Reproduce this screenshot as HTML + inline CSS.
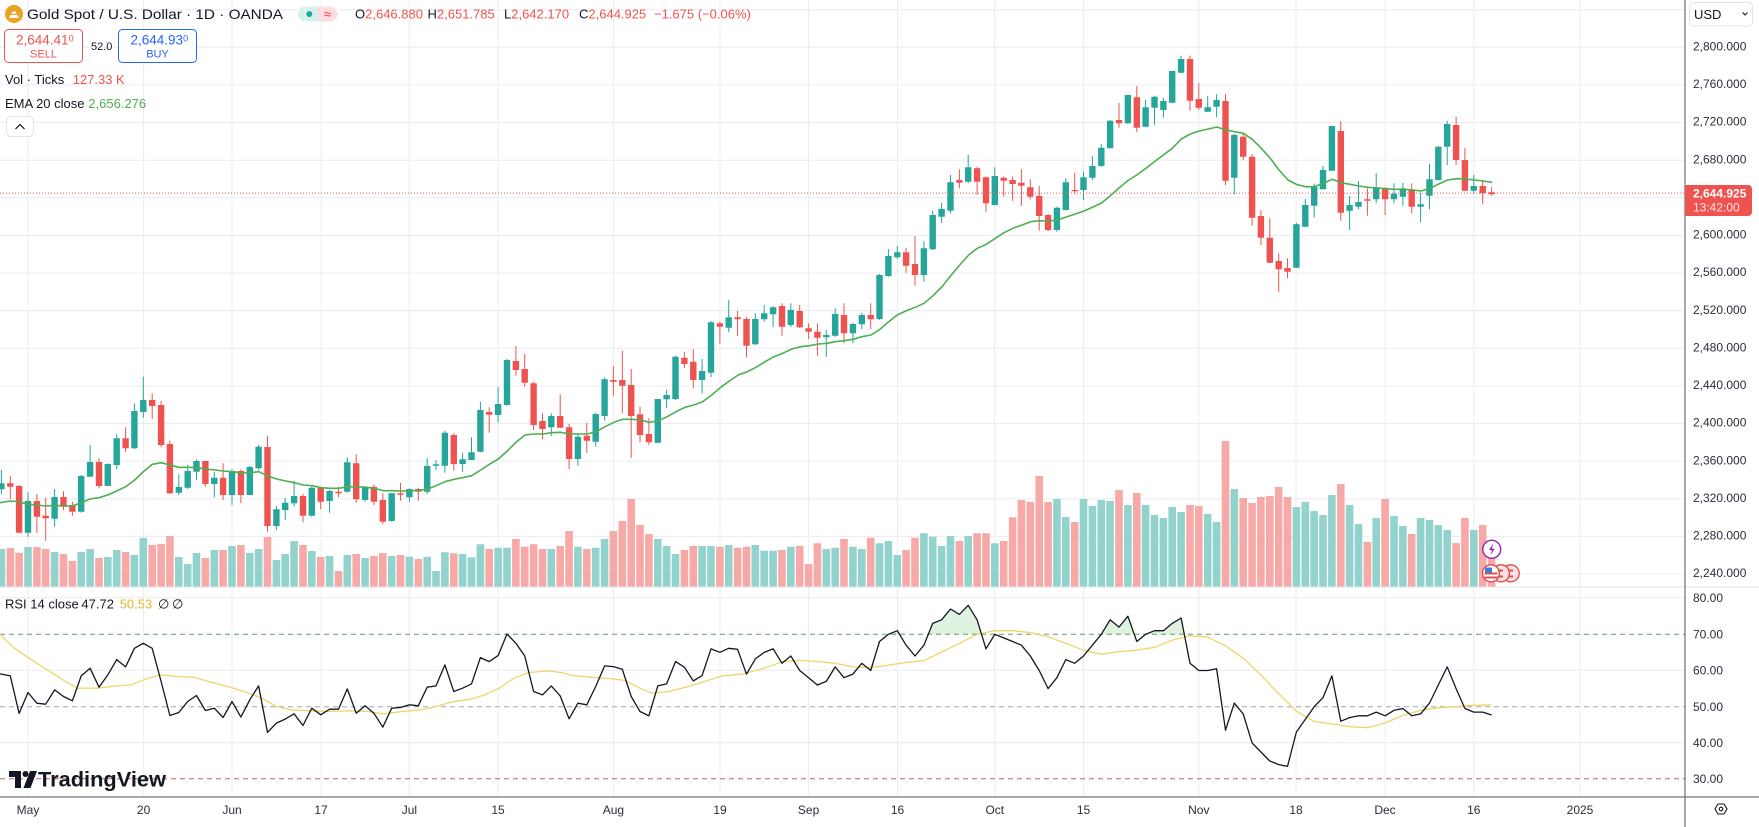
<!DOCTYPE html>
<html><head><meta charset="utf-8"><style>
html,body{margin:0;padding:0;background:#fff;}
svg{display:block;font-family:"Liberation Sans",sans-serif;}
</style></head><body>
<svg width="1759" height="827" viewBox="0 0 1759 827" xmlns="http://www.w3.org/2000/svg">
<rect width="1759" height="827" fill="#fff"/>
<!-- grid -->
<g stroke="#e9ecf1" stroke-width="1" fill="none">
<path d="M0 9.7H1685M0 47.3H1685M0 84.9H1685M0 122.5H1685M0 160.2H1685M0 197.8H1685M0 235.4H1685M0 273H1685M0 310.6H1685M0 348.3H1685M0 385.9H1685M0 423.5H1685M0 461.1H1685M0 498.7H1685M0 536.4H1685M0 574H1685M0 597.7H1685M0 670.3H1685M0 742.7H1685"/>
<path d="M28 0V797M143.6 0V797M232 0V797M321 0V797M409.4 0V797M498 0V797M613.4 0V797M720 0V797M808.6 0V797M897.5 0V797M994.8 0V797M1083.5 0V797M1198.8 0V797M1296 0V797M1385 0V797M1473.8 0V797M1580 0V797"/>
</g>
<!-- volume -->
<path fill="#93d3cd" d="M-2.4 549h7.6V587h-7.6zM24.2 547h7.6V587h-7.6zM50.8 552h7.6V587h-7.6zM77.4 552h7.6V587h-7.6zM86.3 549h7.6V587h-7.6zM104 557h7.6V587h-7.6zM112.9 550h7.6V587h-7.6zM130.6 555h7.6V587h-7.6zM139.5 538h7.6V587h-7.6zM175 557h7.6V587h-7.6zM183.9 564h7.6V587h-7.6zM192.7 553h7.6V587h-7.6zM210.5 550h7.6V587h-7.6zM228.2 546h7.6V587h-7.6zM246 553h7.6V587h-7.6zM254.8 549h7.6V587h-7.6zM272.6 560h7.6V587h-7.6zM281.4 554h7.6V587h-7.6zM290.3 541h7.6V587h-7.6zM308 551h7.6V587h-7.6zM325.8 556h7.6V587h-7.6zM343.5 555h7.6V587h-7.6zM361.3 558h7.6V587h-7.6zM387.9 556h7.6V587h-7.6zM405.6 556.7h7.6V587h-7.6zM423.4 556.7h7.6V587h-7.6zM432.2 571h7.6V587h-7.6zM441.1 552.3h7.6V587h-7.6zM458.8 554h7.6V587h-7.6zM467.7 557.3h7.6V587h-7.6zM476.6 544.3h7.6V587h-7.6zM494.3 547.7h7.6V587h-7.6zM503.2 547.7h7.6V587h-7.6zM547.5 549h7.6V587h-7.6zM574.1 546.7h7.6V587h-7.6zM591.9 547.7h7.6V587h-7.6zM600.8 539h7.6V587h-7.6zM654 539h7.6V587h-7.6zM662.8 546h7.6V587h-7.6zM671.7 554h7.6V587h-7.6zM698.3 546h7.6V587h-7.6zM707.2 546h7.6V587h-7.6zM724.9 545h7.6V587h-7.6zM751.5 545h7.6V587h-7.6zM760.4 550.7h7.6V587h-7.6zM769.3 550.7h7.6V587h-7.6zM787 546.7h7.6V587h-7.6zM822.5 549h7.6V587h-7.6zM831.4 547.7h7.6V587h-7.6zM849.1 546.7h7.6V587h-7.6zM858 549h7.6V587h-7.6zM875.7 543.3h7.6V587h-7.6zM884.6 541h7.6V587h-7.6zM893.5 555h7.6V587h-7.6zM920.1 533.3h7.6V587h-7.6zM928.9 536.7h7.6V587h-7.6zM937.8 546h7.6V587h-7.6zM946.7 536h7.6V587h-7.6zM964.4 536h7.6V587h-7.6zM991 543.3h7.6V587h-7.6zM1053.1 499h7.6V587h-7.6zM1062 517h7.6V587h-7.6zM1079.7 499h7.6V587h-7.6zM1088.6 506h7.6V587h-7.6zM1097.5 500h7.6V587h-7.6zM1106.3 501h7.6V587h-7.6zM1124.1 505h7.6V587h-7.6zM1141.8 505h7.6V587h-7.6zM1150.7 515h7.6V587h-7.6zM1159.6 518h7.6V587h-7.6zM1168.4 507h7.6V587h-7.6zM1177.3 512h7.6V587h-7.6zM1203.9 514h7.6V587h-7.6zM1212.8 522h7.6V587h-7.6zM1230.5 489h7.6V587h-7.6zM1292.6 507h7.6V587h-7.6zM1301.5 502h7.6V587h-7.6zM1310.4 511h7.6V587h-7.6zM1319.2 515h7.6V587h-7.6zM1328.1 495h7.6V587h-7.6zM1345.8 505h7.6V587h-7.6zM1354.7 524h7.6V587h-7.6zM1372.4 518h7.6V587h-7.6zM1390.2 516h7.6V587h-7.6zM1399.1 526h7.6V587h-7.6zM1416.8 518h7.6V587h-7.6zM1425.7 520h7.6V587h-7.6zM1434.5 525h7.6V587h-7.6zM1443.4 530h7.6V587h-7.6zM1470 530h7.6V587h-7.6z"/>
<path fill="#f7a9a8" d="M6.5 548h7.6V587h-7.6zM15.3 552.7h7.6V587h-7.6zM33.1 547h7.6V587h-7.6zM41.9 549h7.6V587h-7.6zM59.7 554h7.6V587h-7.6zM68.6 561h7.6V587h-7.6zM95.2 558h7.6V587h-7.6zM121.8 552h7.6V587h-7.6zM148.4 545h7.6V587h-7.6zM157.3 544h7.6V587h-7.6zM166.1 536h7.6V587h-7.6zM201.6 558h7.6V587h-7.6zM219.3 550h7.6V587h-7.6zM237.1 545h7.6V587h-7.6zM263.7 537h7.6V587h-7.6zM299.2 545h7.6V587h-7.6zM316.9 557h7.6V587h-7.6zM334.7 571h7.6V587h-7.6zM352.4 554h7.6V587h-7.6zM370.1 556h7.6V587h-7.6zM379 553h7.6V587h-7.6zM396.7 555h7.6V587h-7.6zM414.5 559h7.6V587h-7.6zM450 553.3h7.6V587h-7.6zM485.4 549h7.6V587h-7.6zM512.1 539h7.6V587h-7.6zM520.9 546.7h7.6V587h-7.6zM529.8 544.3h7.6V587h-7.6zM538.7 549h7.6V587h-7.6zM556.4 546h7.6V587h-7.6zM565.3 531h7.6V587h-7.6zM583 549h7.6V587h-7.6zM609.6 531h7.6V587h-7.6zM618.5 521h7.6V587h-7.6zM627.4 499h7.6V587h-7.6zM636.2 525h7.6V587h-7.6zM645.1 534h7.6V587h-7.6zM680.6 550h7.6V587h-7.6zM689.5 546h7.6V587h-7.6zM716.1 546.7h7.6V587h-7.6zM733.8 547.7h7.6V587h-7.6zM742.7 546.7h7.6V587h-7.6zM778.2 550h7.6V587h-7.6zM795.9 546h7.6V587h-7.6zM804.8 564h7.6V587h-7.6zM813.6 543.3h7.6V587h-7.6zM840.2 539h7.6V587h-7.6zM866.9 537.7h7.6V587h-7.6zM902.3 550h7.6V587h-7.6zM911.2 537.7h7.6V587h-7.6zM955.6 541h7.6V587h-7.6zM973.3 533.3h7.6V587h-7.6zM982.2 533.3h7.6V587h-7.6zM999.9 541h7.6V587h-7.6zM1008.8 517.3h7.6V587h-7.6zM1017.6 500h7.6V587h-7.6zM1026.5 501.7h7.6V587h-7.6zM1035.4 476h7.6V587h-7.6zM1044.3 502h7.6V587h-7.6zM1070.9 522h7.6V587h-7.6zM1115.2 490h7.6V587h-7.6zM1133 493h7.6V587h-7.6zM1186.2 505h7.6V587h-7.6zM1195 506h7.6V587h-7.6zM1221.7 441h7.6V587h-7.6zM1239.4 498h7.6V587h-7.6zM1248.3 503h7.6V587h-7.6zM1257.1 497h7.6V587h-7.6zM1266 496h7.6V587h-7.6zM1274.9 487h7.6V587h-7.6zM1283.7 497h7.6V587h-7.6zM1337 484h7.6V587h-7.6zM1363.6 542h7.6V587h-7.6zM1381.3 499h7.6V587h-7.6zM1407.9 534h7.6V587h-7.6zM1452.3 543h7.6V587h-7.6zM1461.1 518h7.6V587h-7.6zM1478.9 525h7.6V587h-7.6zM1487.8 555h7.6V587h-7.6z"/>
<!-- wicks -->
<path stroke="#26a69a" stroke-width="1" fill="none" d="M1.4 470V494M28 492.3V536.7M54.6 489V526.7M81.2 475V512.7M90.1 445V476.7M107.8 463.3V486M116.7 434.3V469.3M134.4 403.3V449M143.3 376.7V417.7M178.8 474.3V495M187.7 465V489M196.5 459.3V480M214.3 471.7V497.3M232 469.3V505M249.8 466V495M258.6 445V470M276.4 506V530M285.2 497.7V520M294.1 481V506.7M311.8 486.7V516.7M329.6 490V512.7M347.3 457.3V492.7M365.1 486V501.7M391.7 492.7V521.7M409.4 488.3V501.7M427.2 458.3V494M436 460V470M444.9 430.7V472.7M462.6 452.7V471.7M471.5 437.3V460M480.4 401.7V452.3M498.1 386.7V422.7M507 359V405.7M551.3 413.3V436M577.9 433.3V465.7M595.7 412.7V446.7M604.6 377.3V420.7M657.8 399V442.7M666.6 390V408.3M675.5 356V400M702.1 359V393.3M711 321V377.3M728.7 300V332.3M755.3 313.3V345M764.2 305V321.7M773.1 306V326.7M790.8 303.3V326.7M826.3 330V356.7M835.2 308.3V336.7M852.9 322.7V343.3M861.8 312.7V329.3M879.5 274V320M888.4 249V276.7M897.3 246V259M923.9 241V281.7M932.7 210.7V250M941.6 202.7V222.7M950.5 175V213.3M968.2 155V183.3M994.8 167.3V205.5M1056.9 206.7V231.7M1065.8 178.3V210.5M1083.5 171.7V200M1092.4 156V180M1101.3 144V166.7M1110.1 120V148.5M1127.9 95V124M1145.6 100V127.3M1154.5 95.7V124.7M1163.4 97.7V117.7M1172.2 71V103.3M1181.1 55.7V73.3M1207.7 96V112M1216.6 94.3V117.3M1234.3 134V194.3M1296.4 222.7V268M1305.3 199V227M1314.2 183.5V217.5M1323 166V189.5M1331.9 126V171M1349.6 196V230M1358.5 181V209.3M1376.2 173.3V203.3M1394 183.3V203.3M1402.9 182.7V205.7M1420.6 192.7V222.3M1429.5 164V209.3M1438.3 146V180.5M1447.2 120.7V165M1473.8 175V194"/>
<path stroke="#ef5350" stroke-width="1" fill="none" d="M10.3 476V499.3M19.1 485V533.3M36.9 494V532.7M45.7 497.7V540.7M63.5 491.3V510M72.4 501.7V515.7M99 458.3V488.3M125.6 427.3V451.7M152.2 393.3V419M161.1 400.7V447.3M169.9 440.7V494M205.4 461V486.7M223.1 463.3V500M240.9 469.3V503.3M267.5 436V531.7M303 494V522.3M320.7 486.7V509.3M338.5 486.7V497.3M356.2 454.3V502.7M373.9 484.3V505M382.8 493.3V524.3M400.5 482.7V500.7M418.3 488V500.7M453.8 433.3V470.7M489.2 407.3V432.7M515.9 346V375.7M524.7 354V386.7M533.6 381.7V430M542.5 413.3V439.3M560.2 394.3V427.7M569.1 424V469M586.8 422.7V452.7M613.4 366V395.7M622.3 350.7V413.3M631.2 369V457.7M640 406.7V442.3M648.9 418.3V445M684.4 351.7V368.3M693.3 349V388.3M719.9 321.7V344M737.6 311V336M746.5 316.7V357.3M782 303.3V335.7M799.7 305V328M808.6 323.3V339.3M817.4 323.3V355.7M844 303.3V343.3M870.7 303.3V329M906.1 247.7V272.7M915 236V285.7M959.4 169.3V188.3M977.1 166.7V195M986 176.7V211.7M1003.7 176.7V196.7M1012.6 176.7V200.7M1021.4 169.3V206M1030.3 179.3V199.3M1039.2 186V230.7M1048.1 214V231M1074.7 172.7V194.3M1119 102.7V127.7M1136.8 86V132.3M1190 55.7V110.7M1198.8 83.3V110M1225.5 94V185M1243.2 133.3V160M1252.1 154V225.7M1260.9 210V245M1269.8 218.3V263M1278.7 253.3V292M1287.5 258.3V278.3M1340.8 121V220.7M1367.4 188.3V215.7M1385.1 187.3V215M1411.7 183.3V213.3M1456.1 116.7V165M1464.9 148.3V191M1482.7 180V204.3M1491.6 187.3V195.7"/>
<!-- bodies -->
<path fill="#26a69a" d="M-1.8 483.3h6.4V489.3h-6.4zM24.8 501h6.4V532.7h-6.4zM51.4 497h6.4V518.7h-6.4zM78 476h6.4V511.7h-6.4zM86.9 462h6.4V476.7h-6.4zM104.6 464h6.4V486h-6.4zM113.5 438.3h6.4V465h-6.4zM131.2 411h6.4V448.3h-6.4zM140.1 400h6.4V412h-6.4zM175.6 487h6.4V492.7h-6.4zM184.5 471h6.4V487.7h-6.4zM193.3 461h6.4V471.7h-6.4zM211.1 477.7h6.4V484h-6.4zM228.8 471h6.4V495h-6.4zM246.6 467h6.4V495h-6.4zM255.4 446.7h6.4V468.3h-6.4zM273.2 509.3h6.4V526h-6.4zM282 502.7h6.4V510h-6.4zM290.9 496h6.4V503.3h-6.4zM308.6 487.7h6.4V515.7h-6.4zM326.4 491h6.4V501h-6.4zM344.1 462.3h6.4V491.7h-6.4zM361.9 486.7h6.4V500h-6.4zM388.5 493.3h6.4V521h-6.4zM406.2 489h6.4V497.3h-6.4zM424 466h6.4V491.7h-6.4zM432.8 464.3h6.4V465.7h-6.4zM441.7 432.7h6.4V465.7h-6.4zM459.4 459.3h6.4V464h-6.4zM468.3 452.3h6.4V460h-6.4zM477.2 410h6.4V451.7h-6.4zM494.9 404h6.4V415h-6.4zM503.8 360h6.4V405h-6.4zM548.1 416h6.4V427.3h-6.4zM574.7 436.7h6.4V459h-6.4zM592.5 414h6.4V441.7h-6.4zM601.4 379.3h6.4V416h-6.4zM654.6 399h6.4V442.7h-6.4zM663.4 395h6.4V399.3h-6.4zM672.3 356.7h6.4V399h-6.4zM698.9 371h6.4V380h-6.4zM707.8 322.3h6.4V372.7h-6.4zM725.5 317.3h6.4V327.7h-6.4zM752.1 319h6.4V344.3h-6.4zM761 313.3h6.4V319.3h-6.4zM769.9 307.3h6.4V314.3h-6.4zM787.6 310h6.4V325h-6.4zM823.1 335h6.4V337.3h-6.4zM832 314h6.4V335.7h-6.4zM849.7 324h6.4V333.3h-6.4zM858.6 315h6.4V324.3h-6.4zM876.3 275h6.4V319h-6.4zM885.2 256h6.4V276h-6.4zM894.1 252.3h6.4V257.3h-6.4zM920.7 248.3h6.4V275h-6.4zM929.5 215h6.4V249.3h-6.4zM938.4 209h6.4V216.7h-6.4zM947.3 182.3h6.4V210.7h-6.4zM965 167.3h6.4V181.7h-6.4zM991.6 176h6.4V205h-6.4zM1053.7 207.7h6.4V230h-6.4zM1062.6 182.3h6.4V210h-6.4zM1080.3 177.3h6.4V190h-6.4zM1089.2 166h6.4V177.7h-6.4zM1098.1 147.7h6.4V166h-6.4zM1106.9 120.7h6.4V148.3h-6.4zM1124.7 95h6.4V123.3h-6.4zM1142.4 107.3h6.4V126.7h-6.4zM1151.3 96.7h6.4V107.7h-6.4zM1160.2 101h6.4V110h-6.4zM1169 71h6.4V102.7h-6.4zM1177.9 59h6.4V72.7h-6.4zM1204.5 107.3h6.4V111.7h-6.4zM1213.4 100h6.4V106.7h-6.4zM1231.1 135h6.4V177.7h-6.4zM1293.2 224.3h6.4V267.7h-6.4zM1302.1 205h6.4V226.7h-6.4zM1311 187h6.4V205.7h-6.4zM1319.8 170h6.4V189.3h-6.4zM1328.7 126h6.4V170.7h-6.4zM1346.4 205h6.4V210.7h-6.4zM1355.3 202h6.4V206.7h-6.4zM1373 187.3h6.4V199.3h-6.4zM1390.8 193.7h6.4V199.3h-6.4zM1399.7 188.3h6.4V196.7h-6.4zM1417.4 204.3h6.4V206.7h-6.4zM1426.3 179.3h6.4V195.7h-6.4zM1435.1 146.7h6.4V180h-6.4zM1444 124h6.4V146.7h-6.4zM1470.6 186h6.4V190.7h-6.4z"/>
<path fill="#ef5350" d="M7.1 483.3h6.4V486.7h-6.4zM15.9 486h6.4V532.7h-6.4zM33.7 501h6.4V516.7h-6.4zM42.5 515.7h6.4V518.3h-6.4zM60.3 497h6.4V506.7h-6.4zM69.2 505h6.4V511.7h-6.4zM95.8 462h6.4V486h-6.4zM122.4 438.3h6.4V448.3h-6.4zM149 400h6.4V406h-6.4zM157.9 405h6.4V445h-6.4zM166.7 444h6.4V493.3h-6.4zM202.2 461h6.4V484h-6.4zM219.9 477.7h6.4V495h-6.4zM237.7 471h6.4V495h-6.4zM264.3 447h6.4V526h-6.4zM299.8 496h6.4V515.7h-6.4zM317.5 487.7h6.4V501.7h-6.4zM335.3 491.7h6.4V493.3h-6.4zM353 463.3h6.4V499.3h-6.4zM370.7 486.7h6.4V501.7h-6.4zM379.6 500h6.4V521.7h-6.4zM397.3 493.3h6.4V494.7h-6.4zM415.1 489h6.4V491.7h-6.4zM450.6 435h6.4V464h-6.4zM486 412h6.4V414.7h-6.4zM512.7 361h6.4V370h-6.4zM521.5 369h6.4V382.7h-6.4zM530.4 383.3h6.4V425h-6.4zM539.3 421h6.4V429h-6.4zM557 416h6.4V427.7h-6.4zM565.9 427.3h6.4V459h-6.4zM583.6 435.7h6.4V440.7h-6.4zM610.2 380h6.4V381.7h-6.4zM619.1 380h6.4V385.7h-6.4zM628 385h6.4V416h-6.4zM636.8 414.3h6.4V435h-6.4zM645.7 434h6.4V442.3h-6.4zM681.2 357.7h6.4V364h-6.4zM690.1 361.7h6.4V380h-6.4zM716.7 323.3h6.4V326.7h-6.4zM734.4 317.3h6.4V319.3h-6.4zM743.3 319h6.4V345.7h-6.4zM778.8 306h6.4V326.7h-6.4zM796.5 311h6.4V327.3h-6.4zM805.4 328.3h6.4V331.7h-6.4zM814.2 331.7h6.4V337.7h-6.4zM840.8 315h6.4V333.3h-6.4zM867.5 315h6.4V319.3h-6.4zM902.9 252.3h6.4V265.7h-6.4zM911.8 264h6.4V275h-6.4zM956.2 180h6.4V182.7h-6.4zM973.9 168.3h6.4V181.7h-6.4zM982.8 177.3h6.4V203.3h-6.4zM1000.5 177.7h6.4V180.7h-6.4zM1009.4 180h6.4V184h-6.4zM1018.2 182.7h6.4V185.7h-6.4zM1027.1 187.3h6.4V196.7h-6.4zM1036 196h6.4V216h-6.4zM1044.9 215h6.4V230h-6.4zM1071.5 190h6.4V191.3h-6.4zM1115.8 120h6.4V123.3h-6.4zM1133.6 97.3h6.4V127.7h-6.4zM1186.8 59h6.4V100.7h-6.4zM1195.6 99h6.4V107.7h-6.4zM1222.3 101h6.4V180.7h-6.4zM1240 136.7h6.4V156.7h-6.4zM1248.9 156.7h6.4V217.7h-6.4zM1257.7 216h6.4V237.7h-6.4zM1266.6 237.7h6.4V262.7h-6.4zM1275.5 261h6.4V269.3h-6.4zM1284.3 268h6.4V271.7h-6.4zM1337.6 131h6.4V212.7h-6.4zM1364.2 199.3h6.4V200.7h-6.4zM1381.9 188.3h6.4V199.3h-6.4zM1408.5 189.3h6.4V206.7h-6.4zM1452.9 125h6.4V160h-6.4zM1461.7 160h6.4V190.7h-6.4zM1479.5 186h6.4V193.3h-6.4zM1488.4 192.3h6.4V194.3h-6.4z"/>
<!-- EMA -->
<polyline fill="none" stroke="#4caf50" stroke-width="1.6" stroke-linejoin="round" points="0,502.7 10,501 19,501.7 28,504.3 36.7,505 45.7,506 54.7,505.3 63.3,506 72.3,506 81,502.7 90,499 99,497.7 107.7,495 116.7,491 125.7,486.7 134.7,480 143.3,471.7 152.3,464.3 161.3,462.7 170,465 179,467.3 188,467.3 196.7,467.7 205.7,469 214.7,470 223.3,471 232.3,471.7 241,472.7 250,472.7 259,471.7 267.7,476 276.7,479 285.7,481 294.3,482.7 303.3,485 312.3,485.7 321,487.7 330,488.3 339,488.3 347.7,486.7 356.7,486.7 365.7,487.3 374.3,488.3 383.3,490.7 392.3,490.7 401,491 410,491 418.7,490.5 427.3,489.2 436,485.7 445,481.7 454,479.3 462.7,477.7 471.7,475.7 480.7,470 489.3,464.3 498.3,459 507.3,451 516,442.3 525,435 534,434 543,434 551.7,432.7 560.7,432.3 569.3,434 578.3,434 587.3,434 596.3,431.7 605,426.7 614,422.3 622.7,419.3 631.7,419.3 640.7,420 649.3,422.3 658.3,420.7 667.3,416.7 676,411.7 685,407.3 693.7,405 702.7,401.7 711.7,395 720.3,387.7 729.3,381 738.3,375 747.3,371.7 756,367.3 765,361.7 774,356.7 782.7,353.3 791.7,349 800.7,346.7 809.3,345.7 818.3,344 827,343.3 835.3,341.7 844,340.7 853,339.3 862,336.7 871,335 880,329.3 888.7,321.7 897.3,315 906.3,310.7 915.3,307.3 924,303.3 933,295.7 942,286.7 950.7,275.7 959.7,265 968.7,255 977.3,248.3 986.3,244.3 995.3,238.3 1004,232.7 1013,228.3 1022,225 1030.7,221.7 1039.7,220.7 1048.7,221 1057.3,220 1066.3,217 1075.3,214 1084,211 1093,207 1101.5,203 1110,196 1119,188 1128,180.5 1136.7,175 1145.7,168.5 1154.7,161.5 1163.3,155 1172.3,148.3 1181.3,139 1190.3,134 1199.3,131 1208.3,129 1217,127 1225.7,130 1234.7,131.7 1243.3,133.3 1252.3,139.3 1261.3,148.3 1270.3,158.3 1279,170 1288,180 1296.7,184.5 1305.5,186.7 1314.3,186.7 1323.3,183.3 1332.3,179.3 1341.3,182.7 1350,184.3 1359,186 1367.7,187.3 1376.7,188 1385.3,188.7 1394.3,189.3 1403.3,189.3 1412.3,190 1421,191 1430,188.3 1438.7,184 1447.7,180 1456.7,178.7 1465.3,179 1474.3,180 1483,181 1492,182.3"/>
<!-- current price line -->
<line x1="0" y1="193.1" x2="1685" y2="193.1" stroke="#ef5350" stroke-width="1" stroke-dasharray="1 2"/>
<!-- event icons -->
<g stroke-width="1.3">
<circle cx="1510.7" cy="573.3" r="8.5" fill="#fbe3e3" stroke="#e04848"/>
<circle cx="1501" cy="573.3" r="8.5" fill="#fbe3e3" stroke="#e04848"/>
<circle cx="1491" cy="573.3" r="8.5" fill="#fff" stroke="#e04848"/>
</g>
<rect x="1484.5" y="572.5" width="13" height="2" fill="#e05050"/>
<rect x="1484.5" y="576.5" width="13" height="2" fill="#e05050"/>
<rect x="1485" y="567.5" width="7" height="5" fill="#3d7de0"/>
<path d="M1498 570.5h5M1498 576.5h5M1508 570.5h5M1508 576.5h5" stroke="#e05050" stroke-width="2"/>
<circle cx="1491.7" cy="549.3" r="9" fill="#fff" stroke="#8e24aa" stroke-width="1.4"/>
<path d="M1493.3 543.5l-4.3 6.5h3l-1.6 5.3 4.4-6.6h-3z" fill="#8e24aa"/>
<!-- pane separators & axes -->
<line x1="0" y1="587" x2="1759" y2="587" stroke="#e0e3eb" stroke-width="1"/>
<!-- RSI levels -->
<line x1="0" y1="634.3" x2="1685" y2="634.3" stroke="#5e9e63" stroke-width="1" stroke-dasharray="5 4"/>
<line x1="0" y1="706.7" x2="1685" y2="706.7" stroke="#a3a6af" stroke-width="1" stroke-dasharray="5 4"/>
<line x1="0" y1="778.7" x2="1685" y2="778.7" stroke="#bd6060" stroke-width="1" stroke-dasharray="5 4"/>
<!-- RSI overbought fill -->
<g fill="rgba(76,175,80,0.18)">
<polygon points="888.4,634.3 897.3,630.7 899.5,634.3"/>
<polygon points="928.3,634.3 932.7,623.4 941.6,619.8 950.5,609 959.4,614.4 968.2,605.3 977.1,619.8 981.5,634.3"/>
<polygon points="1101.3,634.3 1110.1,619.8 1119,627.1 1127.9,616.2 1134.1,634.3"/>
<polygon points="1145.6,634.3 1154.5,630.7 1163.4,630.7 1172.2,623.4 1181.1,618 1184.3,634.3"/>
</g>
<!-- RSI MA -->
<polyline fill="none" stroke="#f0d46a" stroke-width="1.3" stroke-linejoin="round" points="0,634.3 14.5,648.3 29.1,658.3 48.5,670.6 63,679.9 77.6,688.2 96.9,688.2 116.3,685.9 130.9,684.9 145.4,679.2 160,674.9 179.4,676.6 193.9,677.2 208.4,681.5 227.8,686.5 247.2,692.5 261.8,698.2 276.3,706.5 290.8,709.8 310.2,710.8 329.6,711.5 349,710.8 368.4,711.5 382.9,713.8 402.3,711.5 421.7,709.8 436.3,706.5 450.8,702.2 470.2,699.2 484.7,694.9 499.3,688.2 513.8,678.2 528.4,672.6 547.7,670.9 562.3,672.6 572,675.6 591.4,677.2 610.8,678.6 625.3,680.5 639.9,688.2 652,693.2 668.9,691.5 688.3,686.5 707.7,680.5 722.2,675.9 741.6,674.2 764.2,668.3 782,661.8 799.7,660.4 817.4,661.5 835.2,663.3 852.9,666.9 870.7,667.6 888.4,665.1 906.1,662.5 923.9,660.7 941.6,652 959.4,643.4 977.1,634.3 994.8,630.7 1012.6,630.7 1030.3,632.5 1048.1,636.8 1065.8,643.4 1083.5,650.2 1101.3,654.2 1119,651.7 1136.8,650.2 1154.5,647.3 1172.2,640.1 1190,635.7 1207.7,637.2 1225.5,645.9 1243.2,658.2 1260.9,675.2 1278.7,693.7 1296.4,711.2 1314.2,721.5 1331.9,723.9 1349.6,726.6 1367.4,727.7 1385.1,723 1402.9,715.4 1420.6,710.3 1438.3,707.8 1456.1,706.7 1473.8,705.3 1491.6,704.9"/>
<!-- RSI -->
<polyline fill="none" stroke="#131722" stroke-width="1.3" stroke-linejoin="round" points="0,673.9 10.3,675.9 19.1,713.5 28,692.5 36.9,703.2 45.7,704.2 54.6,689.9 63.5,696.5 72.4,700.8 81.2,675.9 90.1,668.2 99,687.2 107.8,674.9 116.7,659.6 125.6,666.9 134.4,648.3 143.3,643.3 152.2,648.3 161.1,681.5 169.9,715.5 178.8,712.5 187.7,701.5 196.5,695.5 205.4,710.5 214.3,708.2 223.1,717.5 232,701.5 240.9,717.1 249.8,699.8 258.6,685.9 267.5,732.4 276.4,723.1 285.2,719.1 294.1,713.8 303,725.5 311.8,708.2 320.7,714.8 329.6,709.2 338.5,709.2 347.3,688.9 356.2,713.2 365.1,705.8 373.9,713.2 382.8,727.1 391.7,708.2 400.5,707.5 409.4,704.8 418.3,705.8 427.2,687.2 436,685.9 444.9,664.9 453.8,691.5 462.6,688.2 471.5,683.9 480.4,657.6 489.2,661.6 498.1,655.6 507,634 515.9,643.3 524.7,655.9 533.6,691.5 542.5,694.9 551.3,685.9 560.2,695.9 569.1,718.8 577.9,703.2 586.8,704.8 595.7,686.5 604.6,665.9 613.4,666.6 622.3,669.2 631.2,696.5 640,711.5 648.9,715.8 657.8,685.9 666.6,683.9 675.5,661.6 684.4,667.2 693.3,680.9 702.1,675.6 711,648.9 719.9,652.3 728.7,648.3 737.6,649.3 746.5,674.2 755.3,658.9 764.2,652.4 773.1,648.8 782,663.3 790.8,656 799.7,670.5 808.6,677.7 817.4,685 826.3,681.4 835.2,666.9 844,677.7 852.9,674.1 861.8,663.3 870.7,670.5 879.5,641.5 888.4,634.3 897.3,630.7 906.1,645.2 915,656 923.9,645.2 932.7,623.4 941.6,619.8 950.5,609 959.4,614.4 968.2,605.3 977.1,619.8 986,648.8 994.8,634.3 1003.7,637.9 1012.6,641.5 1021.4,645.2 1030.3,656 1039.2,670.5 1048.1,688.6 1056.9,677.7 1065.8,659.6 1074.7,663.3 1083.5,656 1092.4,645.2 1101.3,634.3 1110.1,619.8 1119,627.1 1127.9,616.2 1136.8,641.5 1145.6,634.3 1154.5,630.7 1163.4,630.7 1172.2,623.4 1181.1,618 1190,663.3 1198.8,670.5 1207.7,670.5 1216.6,668.7 1225.5,730.2 1234.3,703.1 1243.2,713.9 1252.1,742.9 1260.9,752 1269.8,761 1278.7,764.6 1287.5,766.4 1296.4,732 1305.3,719.4 1314.2,706.7 1323,697.6 1331.9,675.9 1340.8,721.2 1349.6,717.6 1358.5,715.8 1367.4,715.8 1376.2,712.1 1385.1,715.8 1394,710.3 1402.9,708.5 1411.7,715.8 1420.6,713.9 1429.5,703.1 1438.3,685 1447.2,666.9 1456.1,688.6 1464.9,708.5 1473.8,712.1 1482.7,712.1 1491.6,715"/>
<!-- axes lines -->
<line x1="1685" y1="0" x2="1685" y2="827" stroke="#50535e" stroke-width="1"/>
<line x1="0" y1="797" x2="1759" y2="797" stroke="#50535e" stroke-width="1"/>
<!-- price axis labels -->
<g font-size="12" fill="#2a2e39">
<text x="1693" y="50.5">2,800.000</text>
<text x="1693" y="88.1">2,760.000</text>
<text x="1693" y="125.7">2,720.000</text>
<text x="1693" y="163.4">2,680.000</text>
<text x="1693" y="238.6">2,600.000</text>
<text x="1693" y="276.2">2,560.000</text>
<text x="1693" y="313.8">2,520.000</text>
<text x="1693" y="351.5">2,480.000</text>
<text x="1693" y="389.1">2,440.000</text>
<text x="1693" y="426.7">2,400.000</text>
<text x="1693" y="464.3">2,360.000</text>
<text x="1693" y="501.9">2,320.000</text>
<text x="1693" y="539.6">2,280.000</text>
<text x="1693" y="577.2">2,240.000</text>
<text x="1693" y="601.9">80.00</text>
<text x="1693" y="638.5">70.00</text>
<text x="1693" y="674.5">60.00</text>
<text x="1693" y="710.9">50.00</text>
<text x="1693" y="746.9">40.00</text>
<text x="1693" y="782.9">30.00</text>
</g>
<!-- price label -->
<path d="M1685 185h63a4 4 0 0 1 4 4v23a4 4 0 0 1 -4 4h-63z" fill="#ef5350"/>
<text x="1693" y="197.5" font-size="12" font-weight="bold" fill="#fff">2,644.925</text>
<text x="1693" y="211.5" font-size="12" fill="#fde6e6">13:42:00</text>
<!-- USD box -->
<rect x="1689.5" y="2.5" width="63" height="23.5" rx="4" fill="#fff" stroke="#e0e3eb"/>
<text x="1694" y="19" font-size="13" fill="#131722">USD</text>
<polyline points="1742.5,12.5 1745,15 1747.5,12.5" fill="none" stroke="#131722" stroke-width="1.1"/>
<!-- settings icon -->
<path d="M1715 809l3-5h6l3 5-3 5h-6z" fill="none" stroke="#131722" stroke-width="1.1"/>
<circle cx="1721" cy="809" r="1.8" fill="none" stroke="#131722" stroke-width="1.1"/>
<!-- time axis labels -->
<g font-size="12" fill="#2a2e39" text-anchor="middle">
<text x="28" y="814">May</text>
<text x="143.6" y="814">20</text>
<text x="232" y="814">Jun</text>
<text x="321" y="814">17</text>
<text x="409.4" y="814">Jul</text>
<text x="498" y="814">15</text>
<text x="613.4" y="814">Aug</text>
<text x="720" y="814">19</text>
<text x="808.6" y="814">Sep</text>
<text x="897.5" y="814">16</text>
<text x="994.8" y="814">Oct</text>
<text x="1083.5" y="814">15</text>
<text x="1198.8" y="814">Nov</text>
<text x="1296" y="814">18</text>
<text x="1385" y="814">Dec</text>
<text x="1473.8" y="814">16</text>
<text x="1580" y="814">2025</text>
</g>
<!-- header -->
<circle cx="14" cy="14" r="9" fill="#eaa322"/>
<path d="M9 18h10l-1.5-3h-7zM11.5 14h5l-1-2.5h-3z" fill="#fff"/>
<text x="27" y="19" font-size="14" fill="#131722" textLength="256" lengthAdjust="spacingAndGlyphs">Gold Spot / U.S. Dollar · 1D · OANDA</text>
<rect x="298" y="6.5" width="20" height="15" fill="#d6f0ec"/>
<rect x="318" y="6.5" width="20" height="15" fill="#fcdde2"/>
<path d="M305.5 6.5h12.5v15h-12.5a7.5 7.5 0 0 1 0-15z" fill="#d6f0ec"/>
<rect x="298" y="6.5" width="8" height="15" fill="#fff"/>
<path d="M305.5 6.5a7.5 7.5 0 0 0 0 15z" fill="#d6f0ec"/>
<rect x="330" y="6.5" width="8" height="15" fill="#fff"/>
<path d="M330 6.5a7.5 7.5 0 0 1 0 15z" fill="#fcdde2"/>
<circle cx="309.3" cy="14" r="3" fill="#26a69a"/>
<text x="327.5" y="18.5" font-size="13" fill="#f23645" text-anchor="middle">≈</text>
<g font-size="13">
<text x="355" y="18.5" fill="#131722">O<tspan fill="#ef5350">2,646.880</tspan></text>
<text x="427.5" y="18.5" fill="#131722">H<tspan fill="#ef5350">2,651.785</tspan></text>
<text x="504" y="18.5" fill="#131722">L<tspan fill="#ef5350">2,642.170</tspan></text>
<text x="579" y="18.5" fill="#131722">C<tspan fill="#ef5350">2,644.925</tspan></text>
<text x="654" y="18.5" fill="#ef5350">−1.675 (−0.06%)</text>
</g>
<rect x="4.5" y="29.5" width="78" height="33" rx="4" fill="#fff" stroke="#ef5350"/>
<rect x="118.5" y="29.5" width="78" height="33" rx="4" fill="#fff" stroke="#2962ff"/>
<text x="16" y="44.3" font-size="13.5" fill="#ef5350">2,644.41<tspan font-size="9" dy="-3">0</tspan></text>
<text x="43.5" y="57.3" font-size="11" fill="#ef5350" text-anchor="middle">SELL</text>
<text x="130.5" y="44.3" font-size="13.5" fill="#2962ff">2,644.93<tspan font-size="9" dy="-3">0</tspan></text>
<text x="157.5" y="57.3" font-size="11" fill="#2962ff" text-anchor="middle">BUY</text>
<text x="91" y="50" font-size="11" fill="#131722">52.0</text>
<text x="5" y="83.8" font-size="13" fill="#131722">Vol · Ticks</text>
<text x="72.7" y="83.8" font-size="13" fill="#ef5350">127.33 K</text>
<text x="5" y="107.8" font-size="13" fill="#131722">EMA 20 close</text>
<text x="88.3" y="107.8" font-size="13" fill="#4caf50">2,656.276</text>
<rect x="6.5" y="116.5" width="27" height="20" rx="4" fill="#fff" stroke="#e0e3eb"/>
<polyline points="15.5,129 20,124.5 24.5,129" fill="none" stroke="#131722" stroke-width="1.2"/>
<!-- RSI legend -->
<text x="5" y="608.5" font-size="13" fill="#131722">RSI 14 close</text>
<text x="81.4" y="608.5" font-size="13" fill="#131722">47.72</text>
<text x="119.7" y="608.5" font-size="13" fill="#e5b92e">50.53</text>
<text x="158" y="608.5" font-size="13" fill="#131722">∅</text>
<text x="172" y="608.5" font-size="13" fill="#131722">∅</text>
<!-- TradingView logo -->
<path d="M9 771h12v17h-6v-11h-6z" fill="#131722"/>
<circle cx="25.5" cy="774" r="3" fill="#131722"/>
<path d="M30 771h7l-6.5 17h-7z" fill="#131722"/>
<text x="38" y="786.5" font-size="21" font-weight="bold" fill="#131722" textLength="128" lengthAdjust="spacingAndGlyphs">TradingView</text>
</svg>
</body></html>
